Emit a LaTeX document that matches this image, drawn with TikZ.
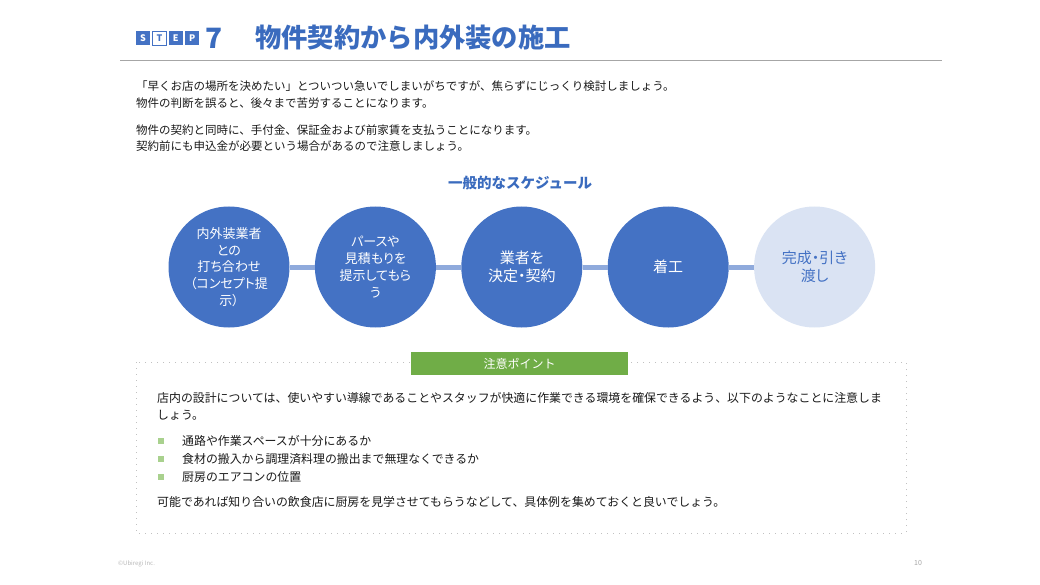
\documentclass[tikz,border=0pt]{standalone}
\usepackage{fontspec}
\setmainfont{Noto Sans CJK JP}
\newfontfamily\jpprop{Noto Sans CJK JP}[RawFeature=+palt]
\usepackage{tikz}
\usetikzlibrary{positioning}
\definecolor{sblue}{HTML}{4472C4}
\definecolor{tblue}{HTML}{3A6BBE}
\definecolor{sbar}{HTML}{8FAADC}
\definecolor{slit}{HTML}{DAE3F3}
\definecolor{sgrn}{HTML}{70AD47}
\definecolor{sbul}{HTML}{A9D18E}
\definecolor{sink}{HTML}{1A1A1A}
\definecolor{sgry}{HTML}{A6A6A6}
\tikzset{
  stage/.style   ={circle, fill=sblue, minimum size=121pt, inner sep=0pt, align=center,
                   text=white, font=\jpprop\fontsize{13}{16.7}\selectfont},
  stagebig/.style={stage, font=\jpprop\fontsize{15}{18}\selectfont},
  stagelt/.style ={stagebig, fill=slit, text=sblue},
  link/.style    ={line width=5pt, draw=sbar},
  body/.style    ={anchor=west, inner sep=0pt, text=sink, font=\fontsize{11.5}{14}\selectfont},
  boxbody/.style ={body, font=\fontsize{11.9}{14}\selectfont},
  letter/.style  ={minimum size=14pt, inner sep=0pt, fill=sblue, text=white,
                   font=\fontsize{9}{9}\selectfont\bfseries},
  bul/.style     ={fill=sbul, minimum size=6pt, inner sep=0pt},
  frame/.style   ={draw=sgry!70, line width=1pt, dash pattern=on 1pt off 5pt},
}

\begin{document}
\begin{tikzpicture}[x=1pt, y=-1pt]
  \useasboundingbox[fill=white] (0,0) rectangle (1040,585);
  % heading
  \node[letter] (S) at (143,38) {S};
  \node[letter, right=2pt of S, fill=white, draw=sblue, text=sblue] (T) {T};
  \node[letter, right=2pt of T] (E) {E};
  \node[letter, right=2pt of E] (P) {P};
  \node[right=6pt of P, inner sep=0pt, text=tblue, font=\fontsize{28}{28}\selectfont\bfseries] (N) {7};
  \node[anchor=west, inner sep=0pt, text=tblue, font=\fontsize{26.3}{26.3}\selectfont\bfseries] (H) at (255,38) {物件契約から内外装の施工};
  \draw[sgry, line width=1pt] (120,61) -- (942,61);
  % intro
  \node[body] (I1) at (136,86) {「早くお店の場所を決めたい」とついつい急いでしまいがちですが、焦らずにじっくり検討しましょう。};
  \node[body] (I2) at (136,103) {物件の判断を誤ると、後々まで苦労することになります。};
  \node[body] (I3) at (136,130) {物件の契約と同時に、手付金、保証金および前家賃を支払うことになります。};
  \node[body] (I4) at (136,146) {契約前にも申込金が必要という場合があるので注意しましょう。};
  % schedule
  \node[text=tblue, font=\fontsize{14.5}{14.5}\selectfont\bfseries] (G) at (520,183) {一般的なスケジュール};
  \node[stage] (C1) at (229,267) {内外装業者\\との\\打ち合わせ\\（コンセプト提\\示）};
  \node[stage, right=25pt of C1] (C2) {パースや\\見積もりを\\提示してもら\\う};
  \node[stagebig, right=25pt of C2] (C3) {業者を\\決定・契約};
  \node[stagebig, right=25pt of C3] (C4) {着工};
  \node[stagelt, right=25pt of C4] (C5) {完成・引き\\渡し};
  \draw[link] (C1) -- (C2);
  \draw[link] (C2) -- (C3);
  \draw[link] (C3) -- (C4);
  \draw[link] (C4) -- (C5);
  % points
  \draw[frame] (136,362) rectangle (906,533);
  \node[fill=sgrn, minimum width=217pt, minimum height=23pt, inner sep=0pt, text=white,
        font=\fontsize{12}{12}\selectfont] (K) at (519.5,363.5) {注意ポイント};
  \node[boxbody] (P1) at (157,398) {店内の設計については、使いやすい導線であることやスタッフが快適に作業できる環境を確保できるよう、以下のようなことに注意しま};
  \node[boxbody] (P2) at (157,415) {しょう。};
  \node[bul] (B1) at (161,441) {};
  \node[bul] (B2) at (161,459) {};
  \node[bul] (B3) at (161,477) {};
  \node[boxbody] (L1) at (182,441) {通路や作業スペースが十分にあるか};
  \node[boxbody] (L2) at (182,459) {食材の搬入から調理済料理の搬出まで無理なくできるか};
  \node[boxbody] (L3) at (182,477) {厨房のエアコンの位置};
  \node[boxbody] (P3) at (157,502) {可能であれば知り合いの飲食店に厨房を見学させてもらうなどして、具体例を集めておくと良いでしょう。};
  % footer
  \node[anchor=west, inner sep=0pt, text=sgry!80, font=\fontsize{6}{6}\selectfont] (F) at (118,564) {©Ubiregi Inc.};
  \node[inner sep=0pt, text=sgry, font=\fontsize{7}{7}\selectfont] (Q) at (918,563) {10};
\end{tikzpicture}
\end{document}
